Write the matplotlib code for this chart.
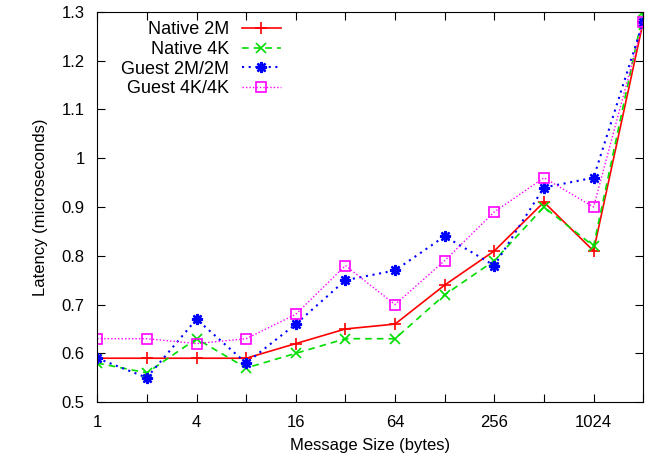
import matplotlib
matplotlib.use('Agg')
from matplotlib import pyplot as plt

plt.rcParams['font.family'] = ['Liberation Sans', 'DejaVu Sans']
plt.rcParams['font.size'] = 12

# message sizes in bytes (powers of two)
sizes = [1, 2, 4, 8, 16, 32, 64, 128, 256, 512, 1024, 2048]
tick_labels = ['1', '', '4', '', '16', '', '64', '', '256', '', '1024', '']

native_2m = [0.59, 0.59, 0.59, 0.59, 0.62, 0.65, 0.66, 0.74, 0.81, 0.91, 0.81, 1.28]
native_4k = [0.58, 0.56, 0.63, 0.57, 0.60, 0.63, 0.63, 0.72, 0.79, 0.90, 0.82, 1.30]
guest_2m = [0.59, 0.55, 0.67, 0.58, 0.66, 0.75, 0.77, 0.84, 0.78, 0.94, 0.96, 1.28]
guest_4k = [0.63, 0.63, 0.62, 0.63, 0.68, 0.78, 0.70, 0.79, 0.89, 0.96, 0.90, 1.28]

fig = plt.figure(figsize=(6.57, 4.58), dpi=100)
ax = fig.add_axes([0.148, 0.122, 0.831, 0.852])

ax.plot(sizes, native_2m, color='#ff0000', linestyle='-', linewidth=1.2,
        marker='+', markersize=8, markeredgewidth=1.2, label='Native 2M')
ax.plot(sizes, native_4k, color='#00dd00', linestyle=(0, (4, 3)), linewidth=1.2,
        marker='x', markersize=7, markeredgewidth=1.2, label='Native 4K')
ax.plot(sizes, guest_2m, color='#0000ff', linestyle=(0, (1, 2.2)), linewidth=1.5,
        marker=(8, 2, 0), markersize=8, markeredgewidth=1.7, label='Guest 2M/2M')
ax.plot(sizes, guest_4k, color='#ff00ff', linestyle=(0, (1, 1.5)), linewidth=1.0,
        marker='s', markersize=7, fillstyle='none', markeredgewidth=1.2,
        label='Guest 4K/4K')

ax.set_xscale('log', base=2)
ax.set_xlim(1, 2048)
ax.set_xticks(sizes)
ax.set_xticklabels(tick_labels)
ax.minorticks_off()
ax.set_ylim(0.5, 1.3)
ax.set_yticks([0.5, 0.6, 0.7, 0.8, 0.9, 1.0, 1.1, 1.2, 1.3])
ax.set_yticklabels(['0.5', '0.6', '0.7', '0.8', '0.9', '1', '1.1', '1.2', '1.3'])
ax.tick_params(direction='in', top=True, right=True, length=6, pad=9)

ax.set_xlabel('Message Size (bytes)', labelpad=6)
ax.set_ylabel('Latency (microseconds)', labelpad=10)

# gnuplot style key: labels right aligned, sample line after the label
ax.legend(loc='upper right', frameon=False, markerfirst=False, fontsize=13,
          handlelength=2.2, handletextpad=0.7, borderaxespad=0.0, borderpad=0.3,
          labelspacing=0.15, bbox_to_anchor=(0.347, 0.99))

fig.savefig('out.png', dpi=100)
